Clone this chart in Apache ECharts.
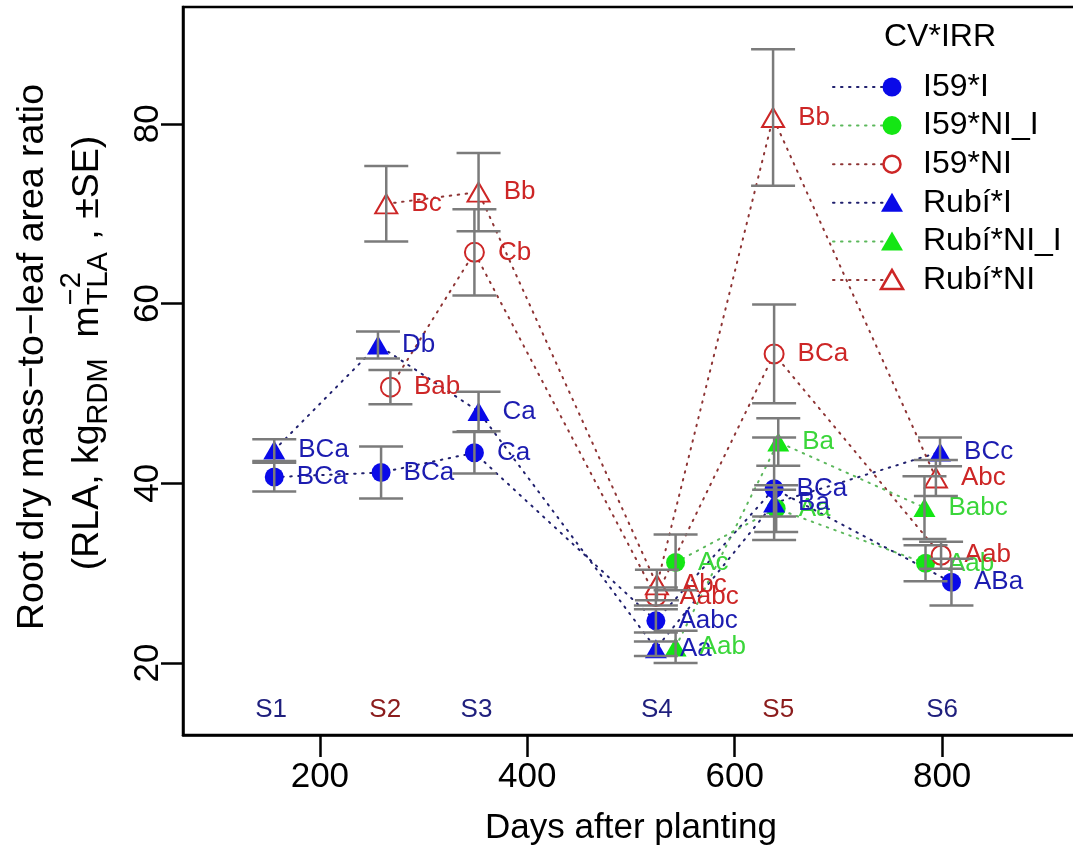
<!DOCTYPE html>
<html>
<head>
<meta charset="utf-8">
<title>Root dry mass-to-leaf area ratio</title>
<script src="https://cdn.jsdelivr.net/npm/echarts@6/dist/echarts.min.js"></script>
<style>
  html, body { margin: 0; padding: 0; background: #fff; }
  #chart { width: 1073px; height: 854px; }
</style>
</head>
<body>
<div id="chart"></div>
<script>
// sampling tags along the bottom of the plot
var samplingNames = ['S1', 'S2', 'S3', 'S4', 'S5', 'S6']
var samplingDays = [153, 263, 351, 525, 642, 800]

// I59*I
var i59IDays = [156, 259, 349, 524, 638, 809]
var i59IMean = [40.7, 41.2, 43.4, 24.7, 39.4, 29.0]
var i59ISE = [1.6, 2.9, 2.3, 1.3, 5.7, 2.6]
var i59ILetters = ['BCa', 'BCa', 'Ca', 'Aabc', 'BCa', 'ABa']

// I59*NI_I
var i59NIIDays = [543, 640, 784]
var i59NIIMean = [31.2, 37.2, 31.1]
var i59NIISE = [3.1, 2.6, 2.0]
var i59NIILetters = ['Ac', 'Aa', 'Aab']

// I59*NI
var i59NIDays = [268, 349, 524, 638, 799]
var i59NIMean = [50.7, 65.7, 27.4, 54.4, 32.0]
var i59NISE = [1.9, 4.8, 1.0, 5.5, 1.5]
var i59NILetters = ['Bab', 'Cb', 'Aabc', 'BCa', 'Aab']

// Rubí*I
var rubiIDays = [156, 256, 353, 524, 638, 798]
var rubiIMean = [43.7, 55.4, 48.0, 21.6, 37.8, 43.5]
var rubiISE = [1.2, 1.5, 2.2, 0.8, 1.5, 1.6]
var rubiILetters = ['BCa', 'Db', 'Ca', 'Aa', 'Ba', 'BCc']

// Rubí*NI_I
var rubiNIIDays = [543, 642, 783]
var rubiNIIMean = [21.8, 44.6, 37.3]
var rubiNIISE = [1.8, 2.65, 3.5]
var rubiNIILetters = ['Aab', 'Ba', 'Babc']

// Rubí*NI
var rubiNIDays = [264, 353, 525, 637, 794]
var rubiNIMean = [71.1, 72.4, 28.7, 80.7, 40.6]
var rubiNISE = [4.2, 4.35, 1.7, 7.6, 2.0]
var rubiNILetters = ['Bc', 'Bb', 'Abc', 'Bb', 'Abc']

var xTicks = [200, 400, 600, 800]
var yTicks = [20, 40, 60, 80]

var FONT = '"Liberation Sans", Arial, Helvetica, sans-serif'
var BLUE = '#0a0ae8', BLUE_TXT = '#1c1cb0', BLUE_LINE = '#20206e'
var GREEN = '#14e614', GREEN_TXT = '#3ad63a', GREEN_LINE = '#5cb85c'
var RED = '#cd2626', RED_TXT = '#cd2626', RED_LINE = '#8e3434'

var treatments = [
  { name: 'I59*I', days: i59IDays, mean: i59IMean, se: i59ISE, letters: i59ILetters, shape: 'circle', filled: true, color: BLUE, text: BLUE_TXT, line: BLUE_LINE },
  { name: 'I59*NI_I', days: i59NIIDays, mean: i59NIIMean, se: i59NIISE, letters: i59NIILetters, shape: 'circle', filled: true, color: GREEN, text: GREEN_TXT, line: GREEN_LINE },
  { name: 'I59*NI', days: i59NIDays, mean: i59NIMean, se: i59NISE, letters: i59NILetters, shape: 'circle', filled: false, color: RED, text: RED_TXT, line: RED_LINE },
  { name: 'Rubí*I', days: rubiIDays, mean: rubiIMean, se: rubiISE, letters: rubiILetters, shape: 'triangle', filled: true, color: BLUE, text: BLUE_TXT, line: BLUE_LINE },
  { name: 'Rubí*NI_I', days: rubiNIIDays, mean: rubiNIIMean, se: rubiNIISE, letters: rubiNIILetters, shape: 'triangle', filled: true, color: GREEN, text: GREEN_TXT, line: GREEN_LINE },
  { name: 'Rubí*NI', days: rubiNIDays, mean: rubiNIMean, se: rubiNISE, letters: rubiNILetters, shape: 'triangle', filled: false, color: RED, text: RED_TXT, line: RED_LINE }
]

var chart = echarts.init(document.getElementById('chart'), null, { renderer: 'canvas' })

var measure = document.createElement('canvas').getContext('2d')
function textWidth(str, size) {
  measure.font = size + 'px ' + FONT
  return measure.measureText(str).width
}

function lineSeries(t) {
  return {
    type: 'line',
    name: t.name,
    data: t.days.map(function (d, i) { return [d, t.mean[i]] }),
    symbol: t.filled ? t.shape : 'empty' + t.shape.charAt(0).toUpperCase() + t.shape.slice(1),
    symbolSize: t.shape === 'circle' ? 19 : [22, 19],
    itemStyle: { color: t.color, borderColor: t.color, borderWidth: t.filled ? 0 : 2.5 },
    lineStyle: { color: t.line, width: 2, type: [1.5, 6.5], cap: 'round' },
    label: {
      show: true,
      position: 'right',
      distance: 13,
      fontSize: 26,
      fontFamily: FONT,
      color: t.text,
      formatter: function (p) { return t.letters[p.dataIndex] }
    },
    z: 2
  }
}

// error bars: vertical whisker with flat caps
var errorData = []
treatments.forEach(function (t) {
  t.days.forEach(function (d, i) {
    errorData.push([d, t.mean[i] - t.se[i], t.mean[i] + t.se[i]])
  })
})

function renderErrorBar(params, api) {
  var x = api.value(0)
  var top = api.coord([x, api.value(2)])
  var bot = api.coord([x, api.value(1)])
  var half = 22
  var style = { stroke: '#7b7b7b', lineWidth: 2.5 }
  return {
    type: 'group',
    children: [
      { type: 'line', shape: { x1: top[0], y1: top[1], x2: bot[0], y2: bot[1] }, style: style },
      { type: 'line', shape: { x1: top[0] - half, y1: top[1], x2: top[0] + half, y2: top[1] }, style: style },
      { type: 'line', shape: { x1: bot[0] - half, y1: bot[1], x2: bot[0] + half, y2: bot[1] }, style: style }
    ]
  }
}

// S1..S6 tags near the bottom
var samplingY = 14.8
var samplingData = samplingNames.map(function (s, i) {
  var dark = (s === 'S2' || s === 'S5') ? '#8b1c1c' : '#1f1f7d'
  return { value: [samplingDays[i], samplingY], name: s, label: { color: dark } }
})

// y axis title, drawn as rotated text with sub/superscripts
function yTitle() {
  var big = 37.5, small = 29
  var pieces = [
    { t: '(RLA, kg', s: big, dy: 0 },
    { t: 'RDM', s: small, dy: 11 },
    { t: '  m', s: big, dy: 0 },
    { t: '\u22122', s: small, dy: -16, stack: true },
    { t: 'TLA', s: small, dy: 11 },
    { t: ' , \u00b1SE)', s: big, dy: 0 }
  ]
  var children = []
  var x = 0
  var i = 0
  while (i < pieces.length) {
    var p = pieces[i]
    if (p.stack) {
      var q = pieces[i + 1]
      children.push({ p: p, x: x + 1 })
      children.push({ p: q, x: x + 1 })
      x += Math.max(textWidth(p.t, p.s), textWidth(q.t, q.s)) + 3
      i += 2
    } else {
      children.push({ p: p, x: x })
      x += textWidth(p.t, p.s)
      i += 1
    }
  }
  var total = x
  var line2 = children.map(function (c) {
    return {
      type: 'text',
      style: {
        text: c.p.t, x: c.x - total / 2, y: c.p.dy,
        fontSize: c.p.s, fontFamily: FONT, fill: '#000',
        align: 'left', verticalAlign: 'middle'
      }
    }
  })
  return [
    {
      type: 'group', x: 33, y: 357, rotation: Math.PI / 2,
      children: [{
        type: 'text',
        style: { text: 'Root dry mass\u2212to\u2212leaf area ratio', x: 0, y: 0, fontSize: big, fontFamily: FONT, fill: '#000', align: 'center', verticalAlign: 'middle' }
      }]
    },
    { type: 'group', x: 88, y: 353, rotation: Math.PI / 2, children: line2 }
  ]
}

// legend block in the upper right corner
function legendBlock() {
  var els = []
  var lineX0 = 833, markX = 892, textX = 923, top = 87, step = 38.6
  els.push({
    type: 'text',
    style: { text: 'CV*IRR', x: 884, y: 37, fontSize: 32, fontFamily: FONT, fill: '#000', verticalAlign: 'middle' }
  })
  treatments.forEach(function (t, i) {
    var y = top + i * step
    els.push({
      type: 'line',
      shape: { x1: lineX0, y1: y, x2: markX - 8, y2: y },
      style: { stroke: t.line, lineWidth: 2, lineDash: [1.5, 6.5], lineCap: 'round' }
    })
    var mstyle = t.filled ? { fill: t.color } : { fill: '#fff', stroke: t.color, lineWidth: 2.5 }
    if (t.shape === 'circle') {
      els.push({ type: 'circle', shape: { cx: markX, cy: y, r: t.filled ? 9.5 : 8.5 }, style: mstyle })
    } else {
      els.push({ type: 'polygon', shape: { points: [[markX, y - 10], [markX - 11, y + 9], [markX + 11, y + 9]] }, style: mstyle })
    }
    els.push({
      type: 'text',
      style: { text: t.name, x: textX, y: y, fontSize: 32, fontFamily: FONT, fill: '#000', verticalAlign: 'middle' }
    })
  })
  return els
}

var series = treatments.map(lineSeries)
series.push({
  type: 'custom',
  name: 'SE',
  data: errorData,
  encode: { x: 0, y: [1, 2] },
  renderItem: renderErrorBar,
  silent: true,
  z: 3
})
series.push({
  type: 'scatter',
  name: 'sampling',
  data: samplingData,
  symbolSize: 1,
  itemStyle: { color: 'rgba(0,0,0,0)', opacity: 1 },
  label: {
    show: true,
    position: 'inside',
    fontSize: 26,
    fontFamily: FONT,
    opacity: 1,
    formatter: function (p) { return p.name }
  },
  silent: true
})

chart.setOption({
  animation: false,
  backgroundColor: '#fff',
  textStyle: { fontFamily: FONT },
  grid: {
    left: 183, top: 7, width: 896, height: 728,
    show: true, borderColor: '#000', borderWidth: 2.5,
    outerBoundsMode: 'none'
  },
  xAxis: {
    type: 'value',
    min: 68,
    max: 932,
    name: 'Days after planting',
    nameLocation: 'middle',
    nameGap: 76,
    nameTextStyle: { fontSize: 35, color: '#000', fontFamily: FONT },
    axisLine: { show: true, onZero: false, lineStyle: { color: '#000', width: 2.5 } },
    axisTick: { show: true, length: 22, customValues: xTicks, lineStyle: { color: '#000', width: 2.5 } },
    axisLabel: { customValues: xTicks, fontSize: 35, color: '#000', margin: 25, fontFamily: FONT },
    splitLine: { show: false }
  },
  yAxis: {
    type: 'value',
    min: 12,
    max: 93,
    axisLine: { show: true, onZero: false, lineStyle: { color: '#000', width: 2.5 } },
    axisTick: { show: true, length: 22, customValues: yTicks, lineStyle: { color: '#000', width: 2.5 } },
    axisLabel: { customValues: yTicks, fontSize: 35, color: '#000', margin: 17, rotate: 90, fontFamily: FONT },
    splitLine: { show: false }
  },
  graphic: yTitle().concat(legendBlock()),
  series: series
})
</script>
</body>
</html>
